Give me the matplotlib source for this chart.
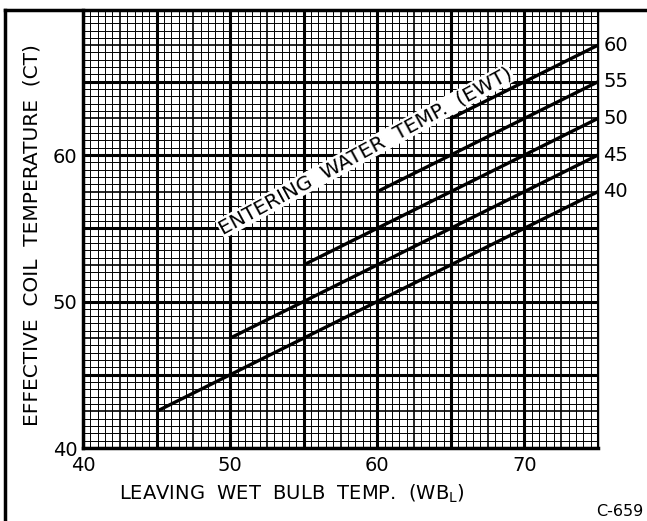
import matplotlib
matplotlib.use("Agg")
import matplotlib.pyplot as plt
import numpy as np
from matplotlib.lines import Line2D

# ---- data ----
ewt_labels = ["40", "45", "50", "55", "60"]
wb_start = [45, 50, 55, 60, 65]
ct_start = [42.5, 47.5, 52.5, 57.5, 62.5]
wb_end = [75, 75, 75, 75, 75]
ct_end = [57.5, 60.0, 62.5, 65.0, 67.5]

x_ticks = [40, 50, 60, 70]
y_ticks = [40, 50, 60]

plt.rcParams['font.family'] = ['DejaVu Sans']

fig = plt.figure(figsize=(6.47, 5.21), dpi=100)
ax = fig.add_axes([83/647, 73/521, 515/647, 438/521])
ax.set_xlim(40, 75)
ax.set_ylim(40, 69.9)

# grid: fine every 0.5, medium every 2.5, heavy every 5
for v in np.arange(40, 75.01, 0.5):
    if abs(v % 5) < 1e-9:
        lw = 2.2
    elif abs(v % 2.5) < 1e-9:
        lw = 1.2
    else:
        lw = 0.7
    ax.axvline(v, color='black', lw=lw, zorder=1)
for v in np.arange(40, 70.01, 0.5):
    if abs(v % 5) < 1e-9:
        lw = 2.2
    elif abs(v % 2.5) < 1e-9:
        lw = 1.2
    else:
        lw = 0.7
    ax.axhline(v, color='black', lw=lw, zorder=1)

for x0, y0, x1, y1, lab in zip(wb_start, ct_start, wb_end, ct_end, ewt_labels):
    ax.plot([x0, x1], [y0, y1], color='black', lw=2.4, solid_capstyle='butt', zorder=3)
    ax.annotate(lab, xy=(x1, y1), xytext=(4, 0), textcoords='offset points',
                ha='left', va='center', fontsize=14, annotation_clip=False)

ax.text(59.2, 60.3, "ENTERING  WATER  TEMP.  (EWT)", rotation=28.5,
        rotation_mode='anchor', ha='center', va='center', fontsize=14.5,
        bbox=dict(facecolor='white', edgecolor='none', pad=0.5), zorder=4)

ax.set_xticks(x_ticks)
ax.set_yticks(y_ticks)
ax.tick_params(length=0, labelsize=14)
ax.tick_params(axis='x', pad=6)
ax.tick_params(axis='y', pad=4)
for s in ['left', 'bottom']:
    ax.spines[s].set_linewidth(2.5)
ax.spines['top'].set_visible(False)
ax.spines['right'].set_linewidth(1.0)

ax.set_xlabel("LEAVING  WET  BULB  TEMP.  (WB$_\\mathregular{L}$)", fontsize=14, labelpad=5)
ax.xaxis.label.set_x((292 - 83) / 515)
ax.set_ylabel("EFFECTIVE  COIL  TEMPERATURE  (CT)", fontsize=14.5, labelpad=8)
ax.yaxis.label.set_y((448 - 235) / 438)

fig.text(620/647, 1 - 511/521, "C-659", ha='center', va='center', fontsize=11.5)

# page frame: top and left rules
fig.add_artist(Line2D([5/647, 1], [1 - 10/521, 1 - 10/521], color='black', lw=2.5,
                      transform=fig.transFigure))
fig.add_artist(Line2D([5/647, 5/647], [0, 1 - 10/521], color='black', lw=2.5,
                      transform=fig.transFigure))

fig.savefig("out.png", dpi=100)
